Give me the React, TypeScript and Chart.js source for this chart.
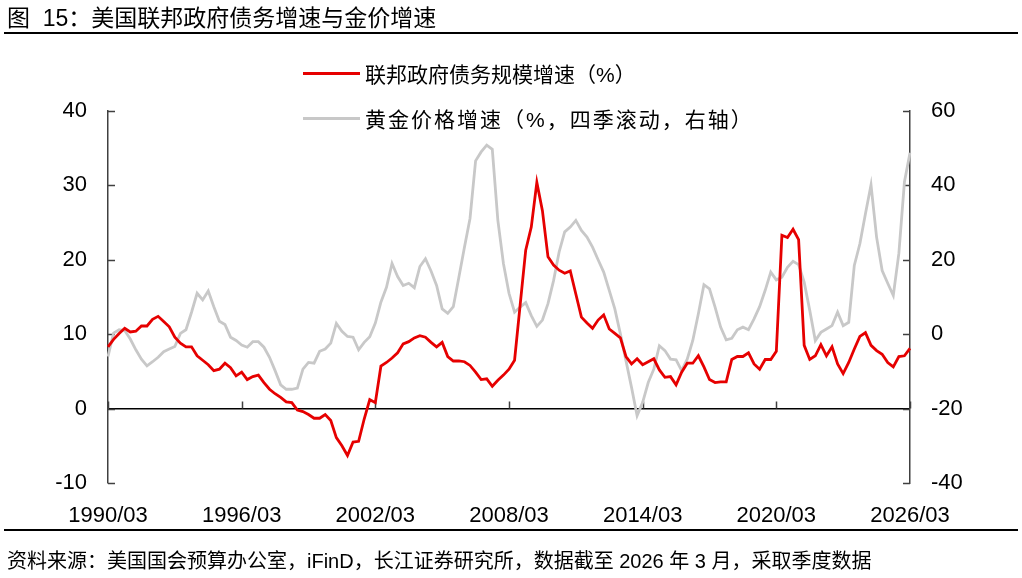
import React, { useEffect, useRef } from 'react';
import { Chart, registerables } from 'chart.js';

Chart.register(...registerables);

// quarterly axis, 1990/03 .. 2026/03
const firstYear = 1990;
const lastYear = 2026;
const quarterMonths = ['03', '06', '09', '12'];
const quarters: string[] = [];
for (let y = firstYear; y <= lastYear; y++) {
  for (const m of quarterMonths) {
    if (y === lastYear && m !== '03') break;
    quarters.push(`${y}/${m}`);
  }
}

const xTickLabels = ['1990/03', '1996/03', '2002/03', '2008/03', '2014/03', '2020/03', '2026/03'];

// 联邦政府债务规模增速（%，左轴）
const debtGrowth = [
  8.3, 9.3, 10.1, 10.8, 10.3, 10.4, 11.1, 11.1, 12.0, 12.4, 11.7, 11.0,
  9.6, 8.8, 8.3, 8.3, 7.1, 6.5, 5.9, 5.1, 5.3, 6.1, 5.5, 4.4,
  4.9, 3.9, 4.3, 4.5, 3.5, 2.6, 2.0, 1.5, 0.9, 0.8, -0.2, -0.4,
  -0.8, -1.3, -1.3, -0.8, -1.6, -3.9, -5.0, -6.3, -4.5, -4.4, -1.4, 1.2,
  0.8, 5.7, 6.2, 6.8, 7.5, 8.7, 9.0, 9.5, 9.8, 9.6, 8.9, 8.3,
  8.9, 7.0, 6.4, 6.4, 6.3, 5.8, 4.9, 3.9, 4.0, 3.0, 3.8, 4.5,
  5.3, 6.5, 13.9, 21.3, 24.4, 30.4, 26.6, 20.4, 19.3, 18.6, 18.2, 18.5,
  15.4, 12.3, 11.5, 10.8, 11.9, 12.6, 10.7, 10.1, 9.5, 7.0, 6.0, 6.7,
  5.9, 6.3, 6.7, 5.2, 4.2, 4.3, 3.2, 4.9, 6.1, 6.1, 7.1, 5.6,
  3.9, 3.5, 3.6, 3.6, 6.6, 7.0, 7.0, 7.5, 6.0, 5.3, 6.6, 6.6,
  7.7, 23.3, 23.0, 24.1, 22.7, 8.5, 6.6, 7.1, 8.6, 7.1, 8.3, 6.0,
  4.7, 6.2, 8.0, 9.7, 10.2, 8.5, 7.8, 7.3, 6.2, 5.6, 7.0, 7.1,
  8.1,
];

// 黄金价格增速（%，四季滚动，右轴）
const goldGrowth = [
  -6.0, 0.3, 1.2, 1.0, -1.3, -4.2, -6.7, -8.5, -7.4, -6.2, -4.7, -4.0,
  -3.3, 0.2, 1.2, 5.9, 11.0, 9.2, 11.6, 7.4, 3.5, 2.6, -0.8, -1.7,
  -2.9, -3.5, -2.0, -2.0, -3.5, -6.2, -9.8, -13.6, -14.8, -14.8, -14.5, -9.4,
  -7.6, -7.8, -4.6, -4.0, -2.4, 2.9, 0.8, -0.6, -0.8, -4.2, -2.2, -0.7,
  3.0, 8.6, 12.6, 19.0, 15.5, 13.1, 13.7, 12.5, 18.2, 20.3, 17.0, 13.1,
  6.8, 5.6, 7.4, 15.3, 23.4, 31.1, 46.6, 49.0, 50.8, 49.7, 30.6, 19.0,
  11.0, 5.9, 7.3, 8.5, 5.0, 2.1, 3.8, 8.2, 14.4, 22.1, 27.5, 28.8,
  30.6, 27.9, 26.1, 23.4, 20.0, 16.7, 11.8, 6.8, 0.1, -7.1, -14.3, -21.9,
  -18.3, -13.0, -9.4, -3.1, -4.4, -6.7, -6.9, -9.8, -6.7, -1.7, 5.5, 13.3,
  12.2, 7.3, 1.9, -1.5, -1.1, 1.2, 1.9, 1.2, 4.1, 7.4, 11.8, 16.7,
  14.6, 15.3, 18.0, 19.6, 18.7, 14.0, 6.4, -1.7, 0.5, 1.4, 2.3, 5.9,
  2.3, 3.2, 18.5, 24.3, 32.4, 40.1, 26.1, 17.1, 13.7, 10.4, 21.7, 40.9,
  48.8,
];

const seriesNames = ['联邦政府债务规模增速（%）', '黄金价格增速（%，四季滚动，右轴）'];
const seriesColors = ['#e60000', '#c8c8c8'];
const legendSpacing = [0, 2];

const tickFont = { family: '"Liberation Sans", Arial, sans-serif', size: 22 };
const cjkFont = '"Liberation Sans", Arial, "Noto Sans CJK SC", sans-serif';

// short inward tick marks on both value axes, upward marks on the zero line
const axisMarks = {
  id: 'axisMarks',
  beforeDatasetsDraw(chart: any) {
    const { ctx, chartArea, scales } = chart;
    const { x, y, y1 } = scales;
    ctx.save();
    ctx.strokeStyle = '#404040';
    ctx.lineWidth = 1.5;
    ctx.beginPath();
    y.ticks.forEach((t: any) => {
      const py = Math.round(y.getPixelForValue(t.value)) + 0.5;
      ctx.moveTo(chartArea.left, py);
      ctx.lineTo(chartArea.left + 7, py);
    });
    y1.ticks.forEach((t: any) => {
      const py = Math.round(y1.getPixelForValue(t.value)) + 0.5;
      ctx.moveTo(chartArea.right, py);
      ctx.lineTo(chartArea.right - 7, py);
    });
    const zeroY = y.getPixelForValue(0);
    xTickLabels.forEach((label) => {
      const px = Math.round(x.getPixelForValue(quarters.indexOf(label))) + 0.5;
      ctx.moveTo(px, zeroY);
      ctx.lineTo(px, zeroY - 7);
    });
    ctx.stroke();
    ctx.restore();
  },
};

const DebtGoldChart: React.FC = () => {
  const canvasRef = useRef<HTMLCanvasElement>(null);
  const chartRef = useRef<Chart | null>(null);

  useEffect(() => {
    if (!canvasRef.current) return;
    if (chartRef.current) chartRef.current.destroy();

    chartRef.current = new Chart(canvasRef.current, {
      type: 'line',
      data: {
        labels: quarters,
        datasets: [
          {
            label: seriesNames[0],
            data: debtGrowth,
            borderColor: seriesColors[0],
            borderWidth: 2.8,
            pointRadius: 0,
            tension: 0,
            yAxisID: 'y',
          },
          {
            label: seriesNames[1],
            data: goldGrowth,
            borderColor: seriesColors[1],
            borderWidth: 2.8,
            pointRadius: 0,
            tension: 0,
            yAxisID: 'y1',
          },
        ],
      },
      options: {
        responsive: false,
        animation: false,
        layout: { padding: { top: 111, left: 0, right: 0, bottom: 0 } },
        plugins: {
          legend: { display: false },
          tooltip: { enabled: false },
        },
        scales: {
          x: {
            type: 'category',
            offset: false,
            grid: { display: false },
            border: { display: false },
            ticks: {
              autoSkip: false,
              maxRotation: 0,
              minRotation: 0,
              color: '#000',
              font: tickFont,
              padding: 12,
              callback: (_v: any, i: number) =>
                xTickLabels.includes(quarters[i]) ? quarters[i] : null,
            },
            afterFit: (s: any) => {
              s.height = 95;
            },
          },
          y: {
            position: 'left',
            min: -10,
            max: 40,
            ticks: { stepSize: 10, color: '#000', font: tickFont, padding: 21 },
            grid: {
              drawTicks: false,
              lineWidth: 1.5,
              color: (c: any) => (c.tick && c.tick.value === 0 ? '#000' : 'rgba(0,0,0,0)'),
            },
            border: { display: true, color: '#404040', width: 1.5 },
            afterFit: (s: any) => {
              s.width = 108;
            },
          },
          y1: {
            position: 'right',
            min: -40,
            max: 60,
            ticks: { stepSize: 20, color: '#000', font: tickFont, padding: 21 },
            grid: { drawOnChartArea: false, drawTicks: false },
            border: { display: true, color: '#404040', width: 1.5 },
            afterFit: (s: any) => {
              s.width = 112;
            },
          },
        },
      },
      plugins: [axisMarks],
    } as any);

    return () => {
      if (chartRef.current) {
        chartRef.current.destroy();
        chartRef.current = null;
      }
    };
  }, []);

  return (
    <div style={{ position: 'fixed', left: 0, top: 0, width: 1022, height: 578, background: '#fff', overflow: 'hidden' }}>
      <canvas ref={canvasRef} width={1022} height={578} style={{ position: 'absolute', left: 0, top: 0 }} />

      <div style={{ position: 'absolute', left: 7, top: 7, fontFamily: cjkFont, fontSize: 23, lineHeight: '23px', color: '#000', whiteSpace: 'pre' }}>
        {'图  15：美国联邦政府债务增速与金价增速'}
      </div>
      <div style={{ position: 'absolute', left: 4, top: 32, width: 1014, height: 2, background: '#000' }} />

      {seriesNames.map((name, i) => (
        <React.Fragment key={name}>
          <div style={{ position: 'absolute', left: 303, top: 72 + i * 45, width: 57, height: 3, background: seriesColors[i] }} />
          <div
            style={{
              position: 'absolute',
              left: 365,
              top: 62 + i * 45,
              fontFamily: cjkFont,
              fontSize: 21,
              lineHeight: '26px',
              letterSpacing: legendSpacing[i],
              color: '#000',
              whiteSpace: 'pre',
            }}
          >
            {name}
          </div>
        </React.Fragment>
      ))}

      <div style={{ position: 'absolute', left: 4, top: 529, width: 1014, height: 2, background: '#000' }} />
      <div style={{ position: 'absolute', left: 7, top: 550, fontFamily: cjkFont, fontSize: 20, lineHeight: '22px', color: '#000', whiteSpace: 'pre' }}>
        {'资料来源：美国国会预算办公室，iFinD，长江证券研究所，数据截至 2026 年 3 月，采取季度数据'}
      </div>
    </div>
  );
};

export default function App() {
  return <DebtGoldChart />;
}
